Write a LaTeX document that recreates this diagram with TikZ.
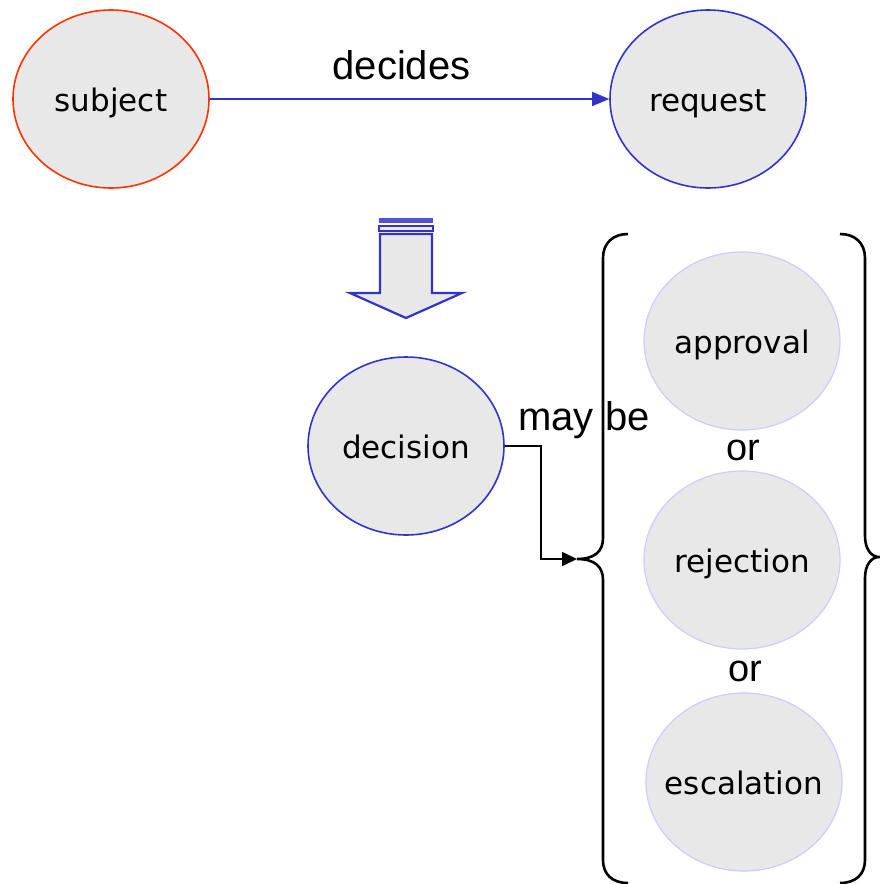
\documentclass[tikz,border=0pt]{standalone}
\usepackage{fontspec}
\setmainfont{Liberation Sans}
\newfontfamily\bubblefont{DejaVu Sans}
\usetikzlibrary{shapes.geometric,arrows.meta}
\definecolor{bubble}{HTML}{E8E8E8}
\definecolor{actor}{HTML}{FF3300}
\definecolor{rel}{HTML}{3333CC}
\definecolor{option}{HTML}{CCCCFF}
\newcommand{\bubbletext}[1]{\makebox[0pt][c]{#1}}
\tikzset{
  concept/.style={ellipse, fill=bubble, line width=1.6pt, minimum width=196pt, minimum height=178pt, inner sep=0pt,
    font=\bubblefont\fontsize{31}{34}\selectfont, text=black, text height=30pt, text depth=6pt},
  caption/.style={font=\fontsize{40}{44}\selectfont, inner sep=0pt, text=black},
  bracket/.style={line width=2.6pt, black},
}
\begin{document}
\begin{tikzpicture}[x=1pt,y=-1pt]
\useasboundingbox (0,0) rectangle (879,884);

% top row: subject decides request
\node[concept, draw=actor] (subject) at (111,99) {\bubbletext{subject}};
\node[concept, draw=rel] (request) at (708,99) {\bubbletext{request}};
\draw[rel, line width=1.6pt, -{Triangle[length=17pt,width=14pt]}] (subject) -- (request)
  node[caption, midway, above=18pt, xshift=-8pt] (decides) {decides};

% block arrow pointing down
\fill[rel!85!white] (379,218) rectangle (433,223);
\draw[rel, line width=1.6pt, fill=bubble] (379,226) rectangle (433,231);
\draw[rel, line width=2.2pt, fill=bubble, line join=miter]
  (380,234) -- (432,234) -- (432,293) -- (462,293) -- (406,318) -- (350,293) -- (380,293) -- cycle;

% decision and its possible outcomes
\node[concept, draw=rel] (decision) at (406,446) {\bubbletext{decision}};
\node[concept, draw=option, line width=1.2pt] (approval) at (742,341) {\bubbletext{approval}};
\node[concept, draw=option, line width=1.2pt] (rejection) at (742,560) {\bubbletext{rejection}};
\node[concept, draw=option, line width=1.2pt] (escalation) at (744,782) {\bubbletext{escalation}};
\node[caption, font=\fontsize{38}{42}\selectfont] (or1) at (743,450) {or};
\node[caption, font=\fontsize{38}{42}\selectfont] (or2) at (745,671) {or};
\node[caption] (maybe) at (584,420) {may be};

% braces around the outcomes
\coordinate (lefttip) at (577,559);
\coordinate (righttip) at (879,557);
\draw[bracket] (628,234) .. controls (613,234) and (603,243) .. (603,258)
  -- (603,538) .. controls (603,552) and (594,559) .. (lefttip)
  .. controls (594,559) and (603,566) .. (603,580)
  -- (603,860) .. controls (603,874) and (612,883) .. (628,883);
\draw[bracket] (840,234) .. controls (855,234) and (865,243) .. (865,258)
  -- (865,536) .. controls (865,550) and (872,557) .. (righttip)
  .. controls (872,557) and (865,564) .. (865,578)
  -- (865,860) .. controls (865,874) and (856,883) .. (840,883);

% connector from decision to the brace
\draw[line width=1.6pt, -{Triangle[length=15pt,width=14pt]}] (decision.east) -- (541,446) |- (lefttip);
\end{tikzpicture}
\end{document}
